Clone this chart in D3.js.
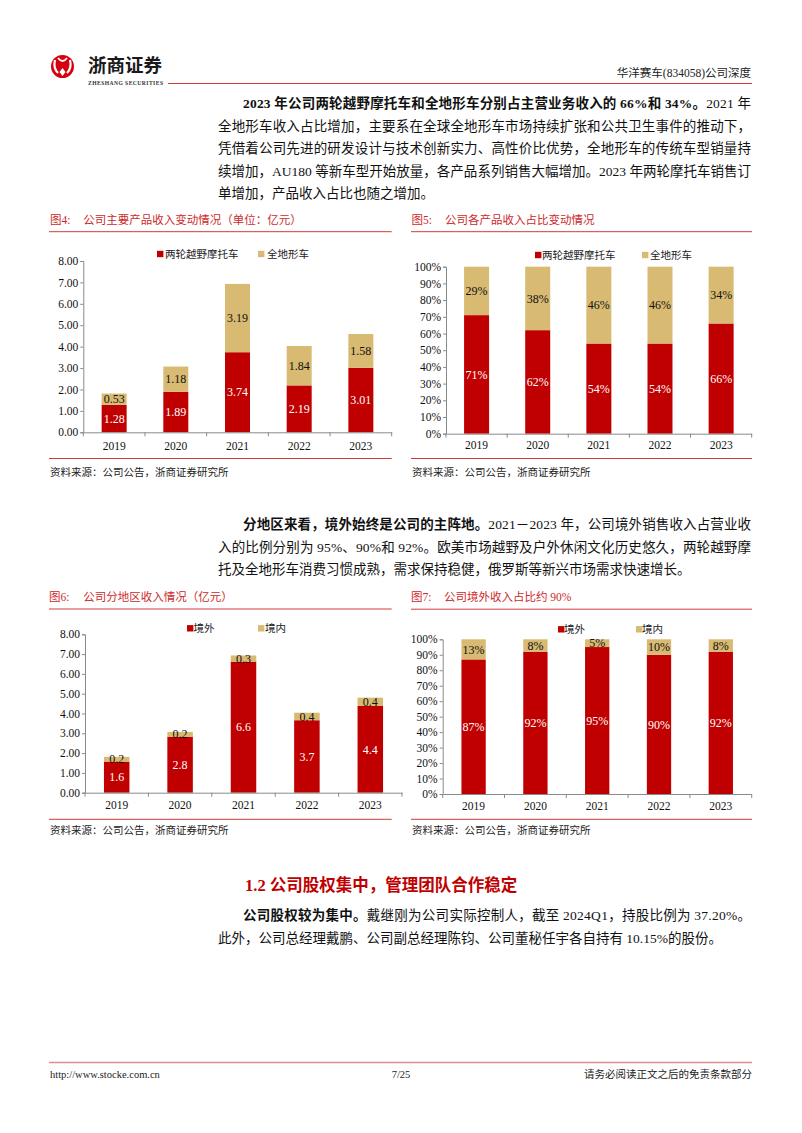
<!DOCTYPE html>
<html><head><meta charset="utf-8">
<script src="https://cdn.jsdelivr.net/npm/d3@7/dist/d3.min.js"></script>
<style>
html,body{margin:0;padding:0;background:#fff;}
svg{display:block;}
</style></head><body>
<svg id="page" width="802" height="1133"></svg>
<script>
// ---------------- data ----------------
const years = ["2019", "2020", "2021", "2022", "2023"];
const motoRevenue = [1.28, 1.89, 3.74, 2.19, 3.01];      // 两轮越野摩托车 (亿元)
const atvRevenue = [0.53, 1.18, 3.19, 1.84, 1.58];       // 全地形车 (亿元)
const motoShare = [71, 62, 54, 54, 66];                  // %
const atvShare = [29, 38, 46, 46, 34];                   // %
const overseasRevenue = [1.57, 2.83, 6.62, 3.66, 4.38];  // 境外 (亿元)
const domesticRevenue = [0.24, 0.24, 0.31, 0.38, 0.42];  // 境内 (亿元)
const overseasShare = [87, 92, 95, 90, 92];              // %
const domesticShare = [13, 8, 5, 10, 8];                 // %
const revenueTicks = [0, 1, 2, 3, 4, 5, 6, 7, 8];
const shareTicks = [0, 10, 20, 30, 40, 50, 60, 70, 80, 90, 100];

const para1 = [
  [["2023 年公司两轮越野摩托车和全地形车分别占主营业务收入的 66%和 34%。", 1], ["2021 年", 0]],
  [["全地形车收入占比增加，主要系在全球全地形车市场持续扩张和公共卫生事件的推动下，", 0]],
  [["凭借着公司先进的研发设计与技术创新实力、高性价比优势，全地形车的传统车型销量持", 0]],
  [["续增加，AU180 等新车型开始放量，各产品系列销售大幅增加。2023 年两轮摩托车销售订", 0]],
  [["单增加，产品收入占比也随之增加。", 0]]
];
const para2 = [
  [["分地区来看，境外始终是公司的主阵地。", 1], ["2021－2023 年，公司境外销售收入占营业收", 0]],
  [["入的比例分别为 95%、90%和 92%。欧美市场越野及户外休闲文化历史悠久，两轮越野摩", 0]],
  [["托及全地形车消费习惯成熟，需求保持稳健，俄罗斯等新兴市场需求快速增长。", 0]]
];
const para3 = [
  [["公司股权较为集中。", 1], ["戴继刚为公司实际控制人，截至 2024Q1，持股比例为 37.20%。", 0]],
  [["此外，公司总经理戴鹏、公司副总经理陈钧、公司董秘任宇各自持有 10.15%的股份。", 0]]
];

// ---------------- styles ----------------
const RED = "#c00000";
const TAN = "#d8ba72";
const TITLE_RED = "#cc2a2a";
const LINE_RED = "#d23a3a";
const FONT = "'Liberation Serif','Noto Sans CJK SC',serif";
const svg = d3.select("#page");

// ---------------- header ----------------
const logo = svg.append("g");
logo.append("circle").attr("cx", 62.5).attr("cy", 66.5).attr("r", 11.5).attr("fill", "#d7000f");
logo.append("path").attr("d", "M55,60 Q53,68 58,73 M70,60 Q72,68 67,73")
  .attr("stroke", "#fff").attr("stroke-width", 2.2).attr("fill", "none");
logo.append("path").attr("d", "M58,58 Q62.5,64 67,58").attr("stroke", "#fff").attr("stroke-width", 1.8).attr("fill", "none");
logo.append("path").attr("d", "M62.5,68 L65.5,72 L62.5,76 L59.5,72 Z").attr("fill", "#fff");
svg.append("text").attr("x", 88).attr("y", 72).attr("font-family", "'Noto Sans CJK SC',sans-serif")
  .attr("font-weight", "bold").attr("font-size", 18.5).attr("fill", "#1a1a1a").text("浙商证券");
svg.append("text").attr("x", 88).attr("y", 85).attr("font-family", "'Liberation Serif',serif")
  .attr("font-weight", "bold").attr("font-size", 5.6).attr("fill", "#333")
  .attr("textLength", 75).attr("lengthAdjust", "spacing").text("ZHESHANG SECURITIES");
svg.append("line").attr("x1", 168).attr("x2", 752).attr("y1", 83.5).attr("y2", 83.5)
  .attr("stroke", LINE_RED).attr("stroke-width", 1.2);
svg.append("text").attr("x", 751).attr("y", 77).attr("text-anchor", "end").attr("font-family", FONT)
  .attr("font-size", 11.5).attr("fill", "#222").text("华洋赛车(834058)公司深度");

// ---------------- paragraphs ----------------
function drawPara(lines, yStart, lh) {
  lines.forEach((ln, i) => {
    const x = i === 0 ? 243 : 218;
    const t = svg.append("text").attr("x", x).attr("y", yStart + i * lh)
      .attr("font-family", FONT).attr("font-size", 13.5).attr("fill", "#111");
    if (i !== lines.length - 1) t.attr("textLength", 751 - x).attr("lengthAdjust", "spacing");
    ln.forEach(p => t.append("tspan").attr("font-weight", p[1] ? "bold" : "normal").text(p[0]));
  });
}
drawPara(para1, 108, 22.5);
drawPara(para2, 529, 22.5);
drawPara(para3, 920, 22.5);

svg.append("text").attr("x", 245).attr("y", 891).attr("font-family", FONT).attr("font-weight", "bold")
  .attr("font-size", 16.5).attr("fill", RED).text("1.2 公司股权集中，管理团队合作稳定");

// ---------------- charts ----------------
function drawChart(c) {
  const g = svg.append("g");
  // title
  g.append("text").attr("x", c.titleX[0]).attr("y", c.titleY).attr("dy", "0.35em").attr("font-family", FONT)
    .attr("font-size", 11.5).attr("fill", TITLE_RED).text(c.fig);
  g.append("text").attr("x", c.titleX[1]).attr("y", c.titleY).attr("dy", "0.35em").attr("font-family", FONT)
    .attr("font-size", 11.5).attr("fill", TITLE_RED).text(c.title);
  g.append("line").attr("x1", c.lineX[0]).attr("x2", c.lineX[1]).attr("y1", c.underY).attr("y2", c.underY)
    .attr("stroke", LINE_RED).attr("stroke-width", 1);
  g.append("line").attr("x1", c.lineX[0]).attr("x2", c.lineX[1]).attr("y1", c.bottomY).attr("y2", c.bottomY)
    .attr("stroke", LINE_RED).attr("stroke-width", 1);
  g.append("text").attr("x", c.lineX[0] + 1).attr("y", c.sourceY).attr("dy", "0.35em").attr("font-family", FONT)
    .attr("font-size", 10.5).attr("fill", "#222").text("资料来源：公司公告，浙商证券研究所");

  const x = d3.scaleBand().domain(years).range([c.x0, c.x1]);
  const y = d3.scaleLinear().domain(c.domain).range([c.yBot, c.yTop]);

  // bars
  const rows = years.map((yr, i) => ({ yr, a: c.s1[i], b: c.s2[i] }));
  const off = (x.bandwidth() - c.barW) / 2;
  g.selectAll(".b1").data(rows).join("rect")
    .attr("x", d => x(d.yr) + off).attr("width", c.barW)
    .attr("y", d => y(d.a)).attr("height", d => y(0) - y(d.a)).attr("fill", RED);
  g.selectAll(".b2").data(rows).join("rect")
    .attr("x", d => x(d.yr) + off).attr("width", c.barW)
    .attr("y", d => y(d.a + d.b)).attr("height", d => y(d.a) - y(d.a + d.b)).attr("fill", TAN);
  g.selectAll(".l1").data(rows).join("text")
    .attr("x", d => x(d.yr) + x.bandwidth() / 2).attr("y", d => (y(0) + y(d.a)) / 2).attr("dy", "0.35em")
    .attr("text-anchor", "middle").attr("font-family", FONT).attr("font-size", 12).attr("fill", "#fff")
    .text(d => c.lfmt(d.a));
  g.selectAll(".l2").data(rows).join("text")
    .attr("x", d => x(d.yr) + x.bandwidth() / 2).attr("y", d => (y(d.a) + y(d.a + d.b)) / 2).attr("dy", "0.35em")
    .attr("text-anchor", "middle").attr("font-family", FONT).attr("font-size", 12).attr("fill", "#111")
    .text(d => c.lfmt(d.b));

  // axes
  const ya = g.append("g").attr("transform", `translate(${c.x0},0)`)
    .call(d3.axisLeft(y).tickValues(c.ticks).tickSize(3).tickPadding(2).tickFormat(c.tfmt));
  ya.select(".domain").attr("stroke", "#8a8a8a");
  ya.selectAll(".tick line").attr("stroke", "#8a8a8a");
  ya.selectAll("text").attr("font-family", FONT).attr("font-size", 11.5).attr("fill", "#111");

  const xa = g.append("g").attr("transform", `translate(0,${c.yBot})`)
    .call(d3.axisBottom(x).tickSize(0).tickPadding(c.catPad));
  xa.select(".domain").attr("stroke", "#8a8a8a");
  xa.selectAll("text").attr("font-family", FONT).attr("font-size", 11.5).attr("fill", "#111");
  g.selectAll(".xt").data(years.concat(["end"])).join("line")
    .attr("x1", (d, i) => c.x0 + i * x.step()).attr("x2", (d, i) => c.x0 + i * x.step())
    .attr("y1", c.yBot).attr("y2", c.yBot + 4).attr("stroke", "#8a8a8a");

  // legend
  c.legend.forEach((L, i) => {
    g.append("rect").attr("x", L[0]).attr("y", c.legendY - 3.2).attr("width", 6.4).attr("height", 6.4)
      .attr("fill", i === 0 ? RED : TAN);
    g.append("text").attr("x", L[1]).attr("y", c.legendY).attr("dy", "0.35em").attr("font-family", FONT)
      .attr("font-size", 10.5).attr("fill", "#222").text(c.names[i]);
  });
}

const f2 = d3.format(".2f"), f1 = d3.format(".1f"), pct = d => d + "%";

drawChart({
  fig: "图4:", title: "公司主要产品收入变动情况（单位：亿元）", titleX: [50, 83.3], titleY: 220,
  lineX: [49, 391.7], underY: 231.7, bottomY: 458.5, sourceY: 472,
  x0: 83.3, x1: 391.7, yTop: 261, yBot: 432.3, domain: [0, 8], ticks: revenueTicks, tfmt: f2, lfmt: f2,
  s1: motoRevenue, s2: atvRevenue, barW: 25, catPad: 10,
  legendY: 254, legend: [[157, 165], [258, 267]], names: ["两轮越野摩托车", "全地形车"]
});
drawChart({
  fig: "图5:", title: "公司各产品收入占比变动情况", titleX: [411.5, 445], titleY: 220,
  lineX: [411, 752], underY: 231.7, bottomY: 458.5, sourceY: 472,
  x0: 446, x1: 751.7, yTop: 266.7, yBot: 433.7, domain: [0, 100], ticks: shareTicks, tfmt: pct, lfmt: pct,
  s1: motoShare, s2: atvShare, barW: 25, catPad: 7,
  legendY: 255, legend: [[535, 542], [642, 650]], names: ["两轮越野摩托车", "全地形车"]
});
drawChart({
  fig: "图6:", title: "公司分地区收入情况（亿元）", titleX: [49, 83.3], titleY: 597.4,
  lineX: [49, 391.7], underY: 609, bottomY: 819.3, sourceY: 830.5,
  x0: 85, x1: 402, yTop: 634.3, yBot: 792.7, domain: [0, 8], ticks: revenueTicks, tfmt: f2, lfmt: f1,
  s1: overseasRevenue, s2: domesticRevenue, barW: 25.5, catPad: 8,
  legendY: 628.3, legend: [[187, 193.5], [258, 265]], names: ["境外", "境内"]
});
drawChart({
  fig: "图7:", title: "公司境外收入占比约 90%", titleX: [411, 444], titleY: 597.4,
  lineX: [411, 752], underY: 609.2, bottomY: 819.3, sourceY: 830.5,
  x0: 442.7, x1: 751.7, yTop: 639.3, yBot: 794, domain: [0, 100], ticks: shareTicks, tfmt: pct, lfmt: pct,
  s1: overseasShare, s2: domesticShare, barW: 24.3, catPad: 8,
  legendY: 629.3, legend: [[558, 564], [636, 642]], names: ["境外", "境内"]
});

// ---------------- footer ----------------
svg.append("line").attr("x1", 49).attr("x2", 752).attr("y1", 1062.5).attr("y2", 1062.5)
  .attr("stroke", "#e08a92").attr("stroke-width", 1.5);
svg.append("text").attr("x", 50).attr("y", 1078).attr("font-family", FONT).attr("font-size", 10.5)
  .attr("fill", "#222").text("http://www.stocke.com.cn");
svg.append("text").attr("x", 401).attr("y", 1078).attr("text-anchor", "middle").attr("font-family", FONT)
  .attr("font-size", 10.5).attr("fill", "#222").text("7/25");
svg.append("text").attr("x", 752).attr("y", 1078).attr("text-anchor", "end").attr("font-family", FONT)
  .attr("font-size", 10.5).attr("fill", "#222").text("请务必阅读正文之后的免责条款部分");
</script>
</body></html>
